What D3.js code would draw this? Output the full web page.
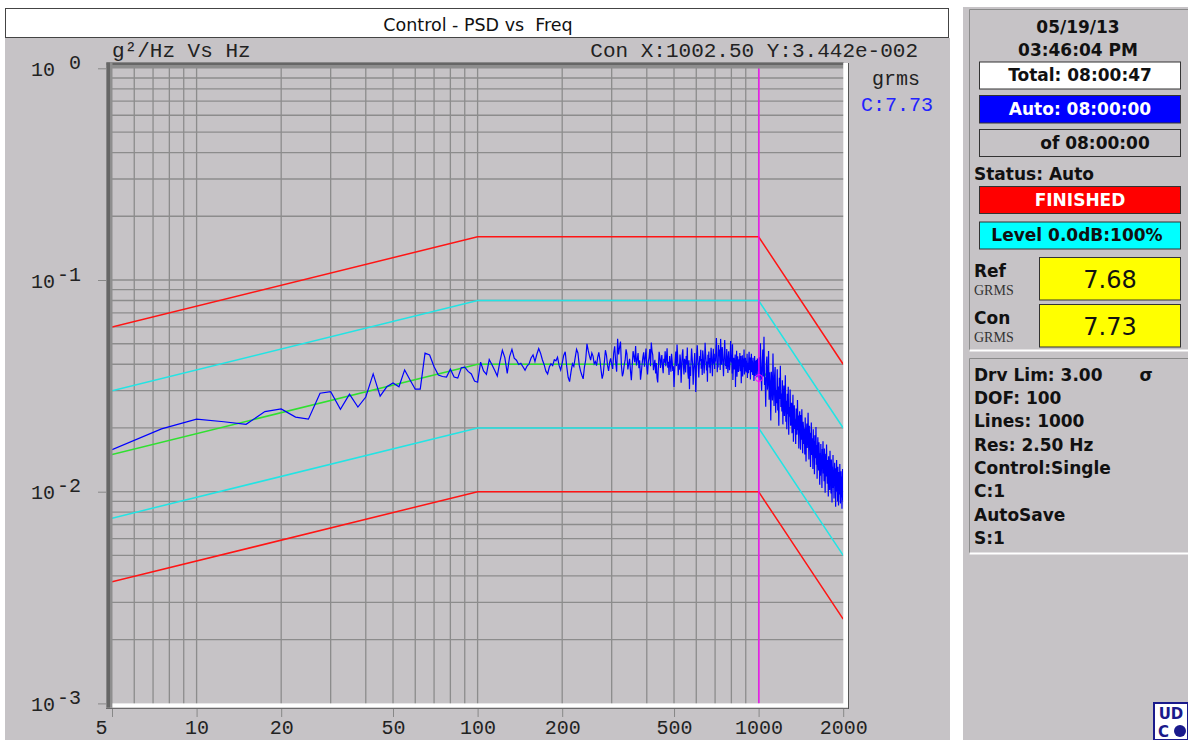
<!DOCTYPE html>
<html>
<head>
<meta charset="utf-8">
<script src="https://cdn.jsdelivr.net/npm/d3@7"></script>
<style>
body { margin: 0; background: #fff; }
svg { display: block; }
.mono { font-family: "Liberation Mono", "Courier New", monospace; }
.sans { font-family: "DejaVu Sans", Arial, sans-serif; }
</style>
</head>
<body>
<div id="chart"></div>
<script>
// ---- chart values ----
const xTickVals = [5, 10, 20, 50, 100, 200, 500, 1000, 2000];
const yTickVals = [1, 0.1, 0.01, 0.001];
const yTickExp = ["0", "-1", "-2", "-3"];

// test profile breakpoints (Hz) and levels (g^2/Hz)
const profileFreq = [5, 100, 1000, 2000];
const refProfile = [0.015, 0.04, 0.04, 0.01];
const abortHi = [0.06, 0.16, 0.16, 0.04];
const alarmHi = [0.03, 0.08, 0.08, 0.02];
const alarmLo = [0.0075, 0.02, 0.02, 0.005];
const abortLo = [0.00375, 0.01, 0.01, 0.0025];

const cursorFreq = 1002.5;
const cursorVal = 0.03442;

// control psd in blocks of lines
const conLowStart = 5, conLowStep = 2.5;
const conLow = [
  .0158, .0198, .0220, .0214, .0208, .0239, .0246, .0225, .0220, .0292,
  .0297, .0245, .0289, .0251, .0280, .0360, .0283, .0313, .0326, .0313,
  .0376, .0337, .0305, .0305, .0451, .0442, .0389, .0356, .0350, .0348,
  .0379, .0348, .0344, .0385, .0388, .0370, .0360, .0333, .0329,
  .0409, .0372, .0358, .0421, .0398, .0375, .0352, .0410, .0466, .0430,
  .0362, .0435, .0470, .0427, .0418, .0399, .0404, .0389, .0375, .0392,
  .0402, .0428, .0443, .0412, .0446, .0475, .0451, .0420, .0398, .0371,
  .0360, .0388, .0402, .0394, .0420, .0415, .0432, .0395, .0376, .0405,
  .0440, .0458, .0392, .0347, .0331, .0368, .0402, .0391, .0430, .0470,
  .0452, .0396, .0371, .0355, .0341, .0388, .0420, .0499, .0465, .0439,
  .0418, .0452, .0437, .0402, .0412, .0394, .0431, .0455, .0418, .0376,
  .0342, .0360, .0410, .0466, .0441, .0395, .0372, .0408, .0426, .0399
];
const conMidStart = 302.5, conMidStep = 2.5;
const conMid = [
  .0380, .0452, .0486, .0410, .0369, .0528, .0445, .0481, .0512, .0392,
  .0351, .0365, .0397, .0418, .0470, .0447, .0378, .0401, .0424, .0372,
  .0336, .0395, .0461, .0436, .0409, .0488, .0395, .0421, .0452, .0383,
  .0417, .0338, .0366, .0402, .0432, .0455, .0389, .0429, .0474, .0387,
  .0358, .0410, .0430, .0472, .0391, .0506, .0462, .0443, .0375, .0398,
  .0420, .0362, .0405, .0345, .0328, .0391, .0458, .0437, .0384, .0416,
  .0442, .0389, .0363, .0424, .0407, .0461, .0392, .0430, .0476, .0385,
  .0411, .0356, .0437, .0402, .0369, .0448, .0415, .0372, .0391, .0312
];
const conUpStart = 502.5, conUpStep = 2.5;
const conUp = [
  .0368, .0421, .0459, .0392, .0496, .0438, .0355, .0401, .0377, .0445,
  .0415, .0327, .0388, .0446, .0471, .0392, .0358, .0424, .0411, .0366,
  .0437, .0399, .0480, .0367, .0342, .0418, .0305, .0389, .0352, .0418,
  .0475, .0431, .0394, .0320, .0372, .0406, .0452, .0385, .0296, .0365,
  .0452, .0491, .0427, .0388, .0346, .0402, .0437, .0413, .0468, .0381,
  .0423, .0356, .0465, .0440, .0396, .0362, .0409, .0505, .0451, .0418,
  .0374, .0412, .0331, .0443, .0401, .0459, .0386, .0428, .0363, .0420,
  .0478, .0439, .0395, .0351, .0416, .0473, .0402, .0448, .0380, .0427,
  .0412, .0478, .0532, .0455, .0367, .0410, .0386, .0493, .0437, .0469,
  .0421, .0376, .0527, .0461, .0398, .0442, .0483, .0436, .0391, .0351,
  .0405, .0459, .0521, .0447, .0393, .0416, .0380, .0472, .0438, .0402,
  .0364, .0428, .0460, .0412, .0375, .0396, .0432, .0515, .0451, .0408,
  .0444, .0362, .0497, .0337, .0385, .0429, .0413, .0378, .0401, .0445,
  .0312, .0418, .0372, .0463, .0349, .0391, .0436, .0410, .0368, .0384,
  .0422, .0398, .0452, .0371, .0402, .0437, .0325, .0410, .0378, .0441,
  .0350, .0392, .0426, .0389, .0470, .0358, .0403, .0372, .0429, .0398,
  .0366, .0415, .0381, .0448, .0344, .0407, .0392, .0363, .0421, .0458,
  .0403, .0376, .0430, .0339, .0395, .0412, .0448, .0367, .0384, .0417,
  .0356, .0429, .0392, .0408, .0333, .0376, .0437, .0399, .0352, .0415,
  .0388, .0362, .0419, .0347, .0395, .0426, .0371, .0404, .0358, .0344
];
const conHighStart = 1005, conHighStep = 5;
const conHigh = [
  .0431, .0335, .0502, .0366, .0300, .0404, .0470, .0350, .0540, .0319,
  .0347, .0252, .0398, .0435, .0303, .0330, .0462, .0272, .0367, .0316,
  .0217, .0369, .0319, .0270, .0450, .0307, .0254, .0353, .0388, .0236,
  .0302, .0262, .0379, .0242, .0314, .0205, .0345, .0274, .0393, .0251,
  .0291, .0239, .0336, .0208, .0281, .0317, .0228, .0262, .0355, .0214,
  .0269, .0197, .0290, .0232, .0313, .0186, .0251, .0226, .0304, .0205,
  .0241, .0263, .0189, .0215, .0287, .0172, .0233, .0256, .0198, .0220,
  .0168, .0247, .0213, .0186, .0271, .0195, .0229, .0160, .0218, .0240,
  .0207, .0158, .0230, .0176, .0245, .0189, .0152, .0214, .0198, .0168,
  .0199, .0150, .0224, .0171, .0139, .0192, .0210, .0161, .0183, .0236,
  .0174, .0142, .0205, .0157, .0190, .0131, .0168, .0212, .0149, .0179,
  .0163, .0128, .0197, .0150, .0174, .0121, .0185, .0144, .0158, .0202,
  .0134, .0166, .0115, .0158, .0181, .0139, .0126, .0171, .0148, .0108,
  .0152, .0119, .0168, .0131, .0145, .0104, .0159, .0137, .0173, .0122,
  .0143, .0112, .0160, .0126, .0099, .0138, .0151, .0118, .0167, .0129,
  .0109, .0141, .0130, .0095, .0147, .0119, .0135, .0102, .0156, .0124,
  .0127, .0098, .0142, .0113, .0089, .0131, .0120, .0149, .0104, .0116,
  .0093, .0125, .0137, .0106, .0118, .0085, .0129, .0110, .0141, .0100,
  .0119, .0090, .0131, .0102, .0086, .0115, .0124, .0097, .0135, .0104,
  .0088, .0112, .0125, .0094, .0118, .0083, .0106, .0128, .0091, .0099
];

// side panel texts
const dateLines = ["05/19/13", "03:46:04 PM"];
const infoLines = ["Drv Lim: 3.00", "DOF: 100", "Lines: 1000", "Res: 2.50 Hz",
                   "Control:Single", "C:1", "AutoSave", "S:1"];
const refGrms = "7.68";
const conGrms = "7.73";

// ---------------------------------------------------------------
const W = 1188, H = 740;
const gray = "#c6c3c6";

var svg = d3.select("#chart").append("svg")
    .attr("width", W)
    .attr("height", H);

svg.append("rect").attr("width", W).attr("height", H).attr("fill", "#fff");
// left window
svg.append("rect").attr("x", 5).attr("y", 38).attr("width", 945).attr("height", 702).attr("fill", gray);
svg.append("rect").attr("x", 5.5).attr("y", 8.5).attr("width", 943).attr("height", 29)
    .attr("fill", "#fff").attr("stroke", "#444");
svg.append("text").attr("class", "sans")
    .attr("x", 478).attr("y", 31)
    .attr("text-anchor", "middle")
    .style("white-space", "pre")
    .attr("font-size", 17.5)
    .attr("fill", "#111")
    .text("Control - PSD vs  Freq");

// right window
svg.append("rect").attr("x", 963).attr("y", 7).attr("width", 225).attr("height", 733).attr("fill", gray);

var x = d3.scaleLog().domain([5, 2000]).range([112, 843.2]);
var y = d3.scaleLog().domain([0.001, 1]).range([703.4, 68.3]);

var plot = svg.append("g");

// grid
plot.selectAll("line.vgrid")
    .data(x.ticks().filter(function(d) { return d > 5 && d < 2000; }))
    .enter().append("line")
    .attr("x1", function(d) { return x(d); })
    .attr("x2", function(d) { return x(d); })
    .attr("y1", 68).attr("y2", 704)
    .attr("stroke", "#8c8c8c").attr("stroke-width", 1.3);

plot.selectAll("line.hgrid")
    .data(y.ticks().filter(function(d) { return d > 0.0011 && d < 0.99; }))
    .enter().append("line")
    .attr("y1", function(d) { return y(d); })
    .attr("y2", function(d) { return y(d); })
    .attr("x1", 112).attr("x2", 844)
    .attr("stroke", "#8c8c8c").attr("stroke-width", 1.3);

svg.append("clipPath").attr("id", "clip")
    .append("rect").attr("x", 112).attr("y", 68.3).attr("width", 731.2).attr("height", 635.1);

var lines = plot.append("g").attr("clip-path", "url(#clip)");

var line = d3.line()
    .x(function(d) { return x(d[0]); })
    .y(function(d) { return y(d[1]); });

function profile(vals) {
    return profileFreq.map(function(f, i) { return [f, vals[i]]; });
}

[[abortHi, "#ff1414"], [alarmHi, "#22e4e4"], [alarmLo, "#22e4e4"], [abortLo, "#ff1414"], [refProfile, "#2fe02f"]]
    .forEach(function(p) {
        lines.append("path")
            .attr("d", line(profile(p[0])))
            .attr("fill", "none")
            .attr("stroke", p[1])
            .attr("stroke-width", 1.5);
    });

// control trace
var conPts = [];
[[conLow, conLowStart, conLowStep], [conMid, conMidStart, conMidStep],
 [conUp, conUpStart, conUpStep], [conHigh, conHighStart, conHighStep]].forEach(function(b) {
    b[0].forEach(function(v, i) { conPts.push([b[1] + i * b[2], v]); });
});

lines.append("path")
    .attr("d", line(conPts))
    .attr("fill", "none")
    .attr("stroke", "#0000ff")
    .attr("stroke-width", 1.2);

// cursor
lines.append("line")
    .attr("x1", x(cursorFreq)).attr("x2", x(cursorFreq))
    .attr("y1", 68).attr("y2", 704)
    .attr("stroke", "#ff00ff").attr("stroke-width", 1.3);
lines.append("circle")
    .attr("cx", x(cursorFreq)).attr("cy", y(cursorVal)).attr("r", 3.5)
    .attr("fill", "none").attr("stroke", "#ff00ff").attr("stroke-width", 1);

// sunken frame
svg.append("rect").attr("x", 106.5).attr("y", 62.5).attr("width", 737).attr("height", 6).attr("fill", "#8e8e8e");
svg.append("rect").attr("x", 106.5).attr("y", 62.5).attr("width", 737).attr("height", 2.5).attr("fill", "#666");
svg.append("rect").attr("x", 106.5).attr("y", 62.5).attr("width", 6).attr("height", 645).attr("fill", "#8e8e8e");
svg.append("rect").attr("x", 106.5).attr("y", 62.5).attr("width", 3.5).attr("height", 645).attr("fill", "#666");
svg.append("rect").attr("x", 843.3).attr("y", 63).attr("width", 4.7).attr("height", 645).attr("fill", "#fff");
svg.append("rect").attr("x", 112.5).attr("y", 703.4).attr("width", 735.5).attr("height", 4.4).attr("fill", "#fff");
svg.append("line").attr("x1", 848.5).attr("x2", 848.5).attr("y1", 63).attr("y2", 709).attr("stroke", "#555");
svg.append("line").attr("x1", 106).attr("x2", 849).attr("y1", 708.3).attr("y2", 708.3).attr("stroke", "#555");

// axes
var xAxis = svg.append("g")
    .attr("transform", "translate(0,709)")
    .call(d3.axisBottom(x).tickValues(xTickVals).tickSize(8).tickFormat(function(d) { return d; }));
xAxis.select(".domain").remove();
xAxis.selectAll("line").attr("stroke", "#888");
xAxis.selectAll("text")
    .attr("class", "mono")
    .attr("y", 25).attr("dy", null)
    .attr("font-size", 20)
    .attr("fill", "#222")
    .attr("dx", function(d) { return d == 5 ? -11 : 0; });

var yAxis = svg.append("g")
    .attr("transform", "translate(106,0)")
    .call(d3.axisLeft(y).tickValues(yTickVals).tickSize(8));
yAxis.select(".domain").remove();
yAxis.selectAll("line").attr("stroke", "#888");
yAxis.selectAll("text").remove();
yAxis.selectAll(".tick").each(function(d, i) {
    var t = d3.select(this);
    t.append("text").attr("class", "mono")
        .attr("x", -51).attr("y", 7).attr("text-anchor", "end")
        .attr("font-size", 20).attr("fill", "#222").text("10");
    t.append("text").attr("class", "mono")
        .attr("x", -25).attr("y", 0).attr("text-anchor", "end")
        .attr("font-size", 20).attr("fill", "#222").text(yTickExp[i]);
});

// header texts over the plot
svg.append("text").attr("class", "mono").attr("x", 112).attr("y", 57)
    .attr("font-size", 21).attr("fill", "#222").text("g\u00b2/Hz Vs Hz");
svg.append("text").attr("class", "mono").attr("x", 918).attr("y", 57)
    .attr("text-anchor", "end").style("white-space", "pre")
    .attr("font-size", 21).attr("fill", "#222").text("Con X:1002.50 Y:3.442e-002");
svg.append("text").attr("class", "mono").attr("x", 896).attr("y", 85)
    .attr("text-anchor", "middle").attr("font-size", 20).attr("fill", "#222").text("grms");
svg.append("text").attr("class", "mono").attr("x", 897).attr("y", 111)
    .attr("text-anchor", "middle").attr("font-size", 20).attr("fill", "#2222ff").text("C:" + conGrms);

// ---- side panel ----
var side = svg.append("g").attr("class", "sans");

function bevel(x0, y0, w, h) {
    side.append("path").attr("d", "M" + x0 + "," + (y0 + h) + "V" + y0 + "H" + (x0 + w))
        .attr("fill", "none").attr("stroke", "#8a8a8a");
    side.append("path").attr("d", "M" + x0 + "," + (y0 + h) + "H" + (x0 + w))
        .attr("fill", "none").attr("stroke", "#fff").attr("stroke-width", 2);
}
bevel(969.5, 9.5, 220, 341);
bevel(969.5, 358.5, 220, 195);

function box(y0, h, fill, txt, color, cx) {
    side.append("rect").attr("x", 979.5).attr("y", y0).attr("width", 201).attr("height", h)
        .attr("fill", fill).attr("stroke", "#333");
    side.append("text").attr("x", cx || 1080).attr("y", y0 + h - 8)
        .attr("text-anchor", "middle").attr("font-size", 17).attr("font-weight", "bold")
        .attr("fill", color).text(txt);
}

dateLines.forEach(function(t, i) {
    side.append("text").attr("x", 1078).attr("y", 33 + i * 22.5)
        .attr("text-anchor", "middle").attr("font-size", 17).attr("font-weight", "bold")
        .attr("fill", "#111").text(t);
});

box(62, 27, "#fff", "Total: 08:00:47", "#111");
box(95.5, 27.5, "#0000ff", "Auto: 08:00:00", "#fff");
box(129.5, 27, gray, "of 08:00:00", "#111", 1095);

side.append("text").attr("x", 974).attr("y", 180)
    .attr("font-size", 17).attr("font-weight", "bold").attr("fill", "#111").text("Status: Auto");

box(186.5, 27, "#ff0000", "FINISHED", "#fff");
box(222, 27, "#00ffff", "Level 0.0dB:100%", "#111", 1077);

[["Ref", refGrms, 257.5], ["Con", conGrms, 304.5]].forEach(function(r) {
    side.append("text").attr("x", 974).attr("y", r[2] + 19)
        .attr("font-size", 17).attr("font-weight", "bold").attr("fill", "#111").text(r[0]);
    side.append("text").attr("x", 974).attr("y", r[2] + 37.5)
        .attr("font-family", "Liberation Serif, Times New Roman, serif")
        .attr("font-size", 14).attr("fill", "#333").text("GRMS");
    side.append("rect").attr("x", 1039.5).attr("y", r[2]).attr("width", 141).attr("height", 42.5)
        .attr("fill", "#ffff00").attr("stroke", "#333");
    side.append("text").attr("x", 1110).attr("y", r[2] + 30)
        .attr("text-anchor", "middle").attr("font-size", 24).attr("fill", "#111").text(r[1]);
});

infoLines.forEach(function(t, i) {
    side.append("text").attr("x", 974).attr("y", 380.7 + i * 23.33)
        .attr("font-size", 17).attr("font-weight", "bold").attr("fill", "#111").text(t);
});
side.append("text").attr("x", 1146).attr("y", 380.7)
    .attr("text-anchor", "middle").attr("font-size", 17).attr("font-weight", "bold")
    .attr("fill", "#111").text("\u03c3");

// logo
var logo = svg.append("g");
logo.append("rect").attr("x", 1154).attr("y", 703).attr("width", 34).attr("height", 37)
    .attr("fill", "#fff").attr("stroke", "#1a1a8c").attr("stroke-width", 2);
logo.append("text").attr("x", 1171).attr("y", 719).attr("text-anchor", "middle")
    .attr("class", "sans").attr("font-size", 15).attr("font-weight", "bold")
    .attr("fill", "#1a1a8c").text("UD");
logo.append("text").attr("x", 1158).attr("y", 737)
    .attr("class", "sans").attr("font-size", 15).attr("font-weight", "bold")
    .attr("fill", "#1a1a8c").text("C");
logo.append("circle").attr("cx", 1180).attr("cy", 731).attr("r", 6).attr("fill", "#1a1a8c");
</script>
</body>
</html>
